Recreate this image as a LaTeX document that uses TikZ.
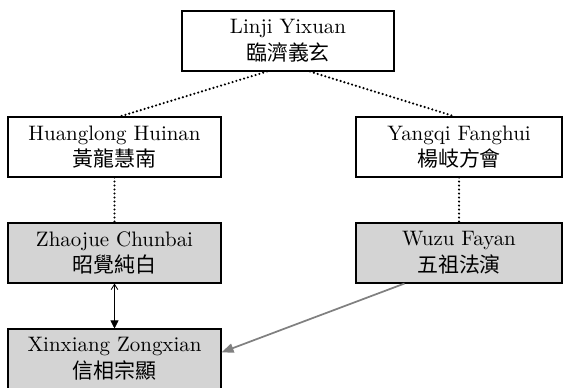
\documentclass[tikz,border=0pt]{standalone}
\usepackage{fontspec}
\setmainfont{lmroman10-regular}[Extension=.otf]
\newfontfamily\cjk{Noto Sans CJK TC}
\usetikzlibrary{arrows.meta,positioning}

\tikzset{
  monk/.style={draw=black, line width=0.8pt, minimum width=159.75pt, minimum height=45pt,
    inner sep=0pt, align=center, font=\fontsize{15.7}{20}\selectfont},
  heir/.style={monk, fill=black!17},
  lineage/.style={line width=1.8pt, line cap=round, dash pattern=on 0pt off 3pt}
}

\begin{document}
\begin{tikzpicture}[x=0.75pt,y=-0.75pt]
  \useasboundingbox (0,0) rectangle (563,387);

  \node [monk, minimum width=159pt] (linji) at (288,41) {Linji Yixuan\\{\cjk 臨濟義玄}};

  \node [monk] (huanglong) at (114.5,147) {Huanglong Huinan\\{\cjk 黃龍慧南}};
  \node [monk, minimum width=154.5pt] (yangqi) at (459,147) {Yangqi Fanghui\\{\cjk 楊岐方會}};

  \node [heir] (zhaojue) at (114.5,253) {Zhaojue Chunbai\\{\cjk 昭覺純白}};
  \node [heir, minimum width=154.5pt] (wuzu) at (459,253) {Wuzu Fayan\\{\cjk 五祖法演}};

  \node [heir] (xinxiang) at (114.5,359) {Xinxiang Zongxian\\{\cjk 信相宗顯}};

  % dharma lines
  \draw [lineage] ([xshift=-15.75pt]linji.south) -- ([xshift=4pt]huanglong.north);
  \draw [lineage] ([xshift=16.5pt]linji.south) -- ([xshift=-3pt]yangqi.north);
  \draw [lineage] (huanglong) -- (zhaojue);
  \draw [lineage] (yangqi) -- (wuzu);

  \draw [{Straight Barb[length=4pt,width=5pt]}-{Triangle[length=6pt,width=6pt]}, line width=0.6pt] (zhaojue) -- (xinxiang);
  \draw [-{Triangle[length=9pt,width=7pt]}, color=black!50, line width=1.3pt]
    ([xshift=36.75pt]wuzu.south west) -- ([yshift=5pt]xinxiang.east);

\end{tikzpicture}
\end{document}
